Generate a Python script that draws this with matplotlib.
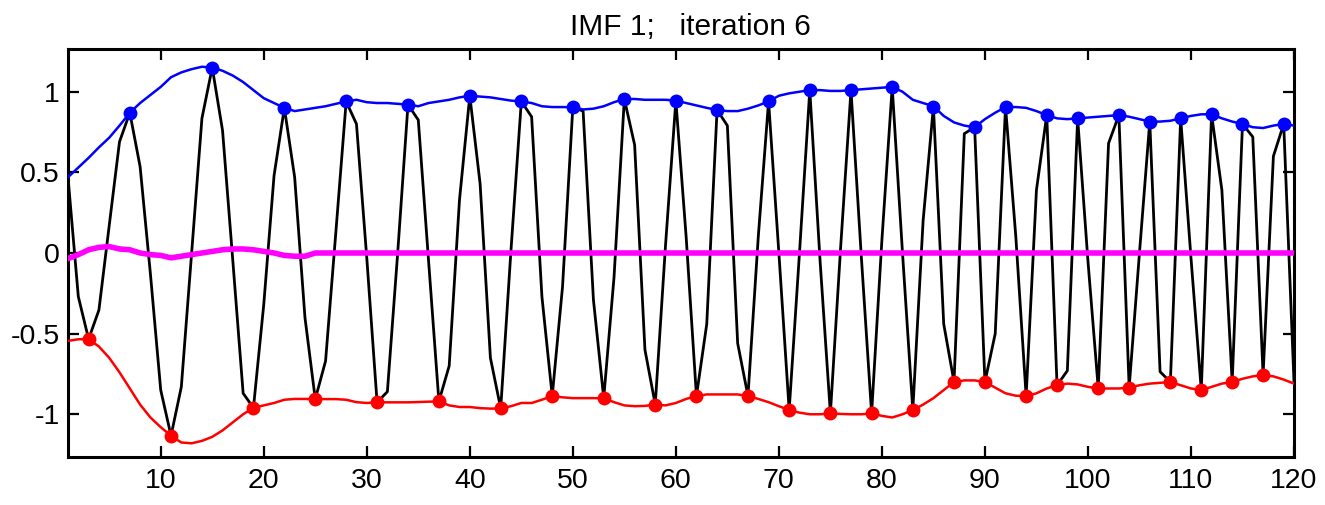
import matplotlib
matplotlib.use("Agg")
import matplotlib.pyplot as plt
import numpy as np

plt.rcParams['font.family'] = ['Liberation Sans', 'DejaVu Sans']

# ---- data ----
signal = [0.47, -0.27, -0.534, -0.354, 0.17, 0.69, 0.87, 0.535, -0.13, -0.85,
          -1.133, -0.83, 0.0, 0.835, 1.15, 0.76, -0.05, -0.87, -0.96, -0.32,
          0.48, 0.90, 0.47, -0.40, -0.906, -0.67, 0.13, 0.94, 0.80, -0.03,
          -0.926, -0.86, 0.0, 0.92, 0.825, -0.05, -0.92, -0.70, 0.33, 0.975,
          0.43, -0.65, -0.964, 0.02, 0.94, 0.845, -0.27, -0.887, -0.21, 0.904,
          0.88, -0.29, -0.90, -0.15, 0.955, 0.67, -0.60, -0.94, 0.05, 0.945,
          0.10, -0.887, -0.44, 0.887, 0.79, -0.56, -0.887, 0.10, 0.94, 0.0,
          -0.974, 0.0, 1.01, -0.05, -0.995, 0.04, 1.01, -0.02, -0.995, 0.08,
          1.03, 0.0, -0.974, 0.2, 0.908, -0.44, -0.80, 0.74, 0.78, -0.80,
          -0.50, 0.908, 0.10, -0.887, 0.39, 0.855, -0.82, -0.73, 0.835, -0.05,
          -0.84, 0.68, 0.855, -0.835, 0.0, 0.815, -0.736, -0.80, 0.835, -0.03,
          -0.85, 0.86, 0.39, -0.80, 0.80, 0.72, -0.757, 0.60, 0.80, -0.80]
t = list(range(1, 121))

max_idx = [7, 15, 22, 28, 34, 40, 45, 50, 55, 60, 64, 69, 73, 77, 81, 85, 89,
           92, 96, 99, 103, 106, 109, 112, 115, 119]
min_idx = [3, 11, 19, 25, 31, 37, 43, 48, 53, 58, 62, 67, 71, 75, 79, 83, 87,
           90, 94, 97, 101, 104, 108, 111, 114, 117]

upper = [0.47, 0.53, 0.59, 0.655, 0.715, 0.79, 0.87, 0.93, 0.98, 1.03,
         1.09, 1.12, 1.14, 1.155, 1.15, 1.13, 1.10, 1.06, 1.01, 0.96,
         0.93, 0.90, 0.88, 0.89, 0.90, 0.91, 0.925, 0.94, 0.95, 0.935,
         0.93, 0.93, 0.925, 0.92, 0.91, 0.93, 0.94, 0.95, 0.965, 0.975,
         0.97, 0.965, 0.955, 0.945, 0.94, 0.93, 0.91, 0.905, 0.905, 0.904,
         0.89, 0.895, 0.91, 0.935, 0.955, 0.955, 0.95, 0.95, 0.95, 0.945,
         0.93, 0.915, 0.90, 0.887, 0.88, 0.88, 0.895, 0.915, 0.94, 0.975,
         0.99, 1.0, 1.01, 1.01, 1.005, 1.005, 1.01, 1.015, 1.02, 1.025,
         1.03, 1.00, 0.95, 0.93, 0.91, 0.85, 0.81, 0.79, 0.78, 0.83,
         0.87, 0.905, 0.905, 0.90, 0.88, 0.855, 0.835, 0.83, 0.835, 0.84,
         0.845, 0.85, 0.855, 0.845, 0.83, 0.815, 0.815, 0.82, 0.835, 0.85,
         0.86, 0.86, 0.835, 0.815, 0.80, 0.78, 0.775, 0.79, 0.80, 0.79]

lower = [-0.545, -0.535, -0.534, -0.58, -0.65, -0.74, -0.84, -0.94, -1.02, -1.08,
         -1.133, -1.175, -1.18, -1.165, -1.14, -1.10, -1.05, -1.00, -0.96, -0.945,
         -0.93, -0.91, -0.905, -0.905, -0.906, -0.906, -0.906, -0.91, -0.925, -0.93,
         -0.926, -0.926, -0.926, -0.926, -0.924, -0.922, -0.92, -0.945, -0.955, -0.955,
         -0.962, -0.965, -0.964, -0.95, -0.93, -0.93, -0.91, -0.887, -0.895, -0.90,
         -0.90, -0.90, -0.90, -0.925, -0.945, -0.95, -0.948, -0.94, -0.945, -0.93,
         -0.905, -0.887, -0.877, -0.877, -0.877, -0.877, -0.887, -0.905, -0.925, -0.95,
         -0.974, -0.99, -1.0, -1.0, -0.995, -0.998, -1.0, -1.0, -0.995, -1.01,
         -1.02, -1.0, -0.974, -0.94, -0.90, -0.85, -0.80, -0.79, -0.79, -0.80,
         -0.835, -0.87, -0.885, -0.887, -0.87, -0.84, -0.82, -0.81, -0.815, -0.83,
         -0.84, -0.84, -0.84, -0.835, -0.82, -0.81, -0.805, -0.80, -0.82, -0.84,
         -0.85, -0.83, -0.81, -0.80, -0.78, -0.765, -0.757, -0.765, -0.785, -0.81]

mean_x = [1, 2, 3, 4, 5, 6, 7, 8, 9, 10, 11, 12, 13, 14, 15, 16, 17, 18, 19,
          20, 21, 22, 23, 24, 25, 26, 120]
mean_y = [-0.035, -0.01, 0.02, 0.035, 0.04, 0.025, 0.02, 0.0, -0.01, -0.015,
          -0.03, -0.02, -0.01, 0.0, 0.01, 0.02, 0.025, 0.025, 0.02, 0.01,
          0.0, -0.015, -0.02, -0.02, 0.0, 0.0, 0.0]

xticks = [10, 20, 30, 40, 50, 60, 70, 80, 90, 100, 110, 120]
yticks = [-1, -0.5, 0, 0.5, 1]
ytick_labels = ['-1', '-0.5', '0', '0.5', '1']
title = 'IMF 1;   iteration 6'

# ---- figure ----
fig = plt.figure(figsize=(13.25, 5.05), dpi=100)
ax = fig.add_axes([68 / 1325, 1 - 457 / 505, (1294 - 68) / 1325, (457 - 49) / 505])

sig = np.array(signal)
ax.plot(t, signal, color='black', lw=2.0, zorder=2)
ax.plot(t, upper, color=(0, 0, 1), lw=1.8, zorder=3)
ax.plot(t, lower, color=(1, 0, 0), lw=1.8, zorder=3)
ax.plot(mean_x, mean_y, color=(1, 0, 1), lw=4.0, zorder=4)
mi = np.array(max_idx) - 1
ni = np.array(min_idx) - 1
ax.plot(np.array(t)[mi], sig[mi], 'o', color=(0, 0, 1), ms=10, mec='none', zorder=5)
ax.plot(np.array(t)[ni], sig[ni], 'o', color=(1, 0, 0), ms=10, mec='none', zorder=5)

ax.set_xlim(1, 120)
ax.set_ylim(-1.265, 1.265)
ax.set_xticks(xticks)
ax.set_xticklabels([str(v) for v in xticks])
ax.set_yticks(yticks)
ax.set_yticklabels(ytick_labels)
ax.tick_params(direction='in', length=8, width=1.6, top=True, right=True,
               labelsize=20.5)
ax.tick_params(axis='x', pad=8)
ax.tick_params(axis='y', pad=6)
for s in ax.spines.values():
    s.set_linewidth(2.2)
ax.set_title(title, fontsize=21.5, pad=10, x=0.508)

fig.savefig('out.png', dpi=100)
